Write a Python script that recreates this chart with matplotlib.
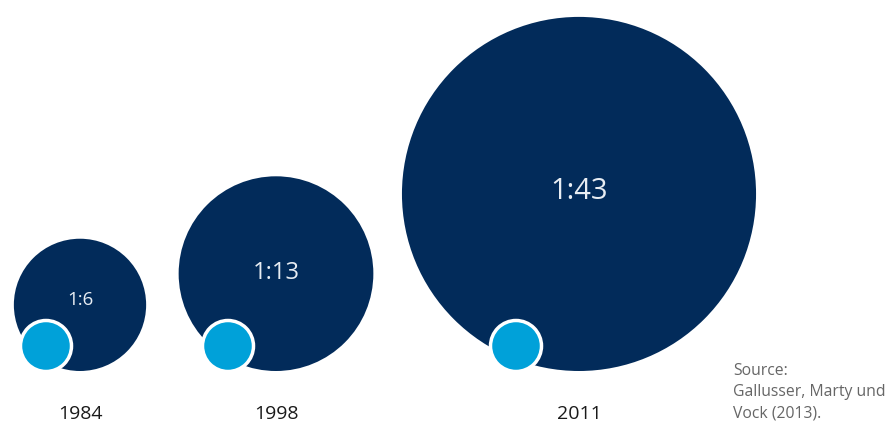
import matplotlib
matplotlib.use("Agg")
import matplotlib.pyplot as plt
from matplotlib.patches import Circle
import numpy as np

years = ["1984", "1998", "2011"]
ratios = [6, 13, 43]
ratio_labels = ["1:6", "1:13", "1:43"]
source_lines = ["Source:", "Gallusser, Marty und", "Vock (2013)."]

# layout (pixels)
base_r = 27.0
centers_x = [80, 276, 579]
bottom_y = 371
small_cx = [46, 228, 516]
small_cy = 346
label_fs = [13.5, 17, 21]
label_dy = [-5, -1, -2]

navy = "#022b5a"
blue = "#00a1d9"

plt.rcParams['font.family'] = ['Open Sans', 'DejaVu Sans']
fig = plt.figure(figsize=(8.89, 4.23), dpi=100)
ax = fig.add_axes([0, 0, 1, 1])
ax.set_xlim(0, 889)
ax.set_ylim(423, 0)
ax.set_aspect('equal')
ax.axis('off')

for i, (yr, rt, lab) in enumerate(zip(years, ratios, ratio_labels)):
    R = base_r * np.sqrt(rt)
    cy = bottom_y - R
    ax.add_patch(Circle((centers_x[i], cy), R, facecolor=navy, edgecolor='none', zorder=1))
    ax.text(centers_x[i], cy + label_dy[i], lab, color="#e8edf3", fontsize=label_fs[i],
            ha='center', va='center', zorder=3)
    ax.add_patch(Circle((small_cx[i], small_cy), base_r - 1.5, facecolor=blue,
                        edgecolor='white', linewidth=2.5, zorder=2))
    ax.text(centers_x[i], 414, yr, color="#1a1a1a", fontsize=14, ha='center', va='center')

for j, line in enumerate(source_lines):
    ax.text(733, 371 + j * 21.5, line, color="#666666", fontsize=11.3, ha='left', va='center')

fig.savefig("out.png", dpi=100)
